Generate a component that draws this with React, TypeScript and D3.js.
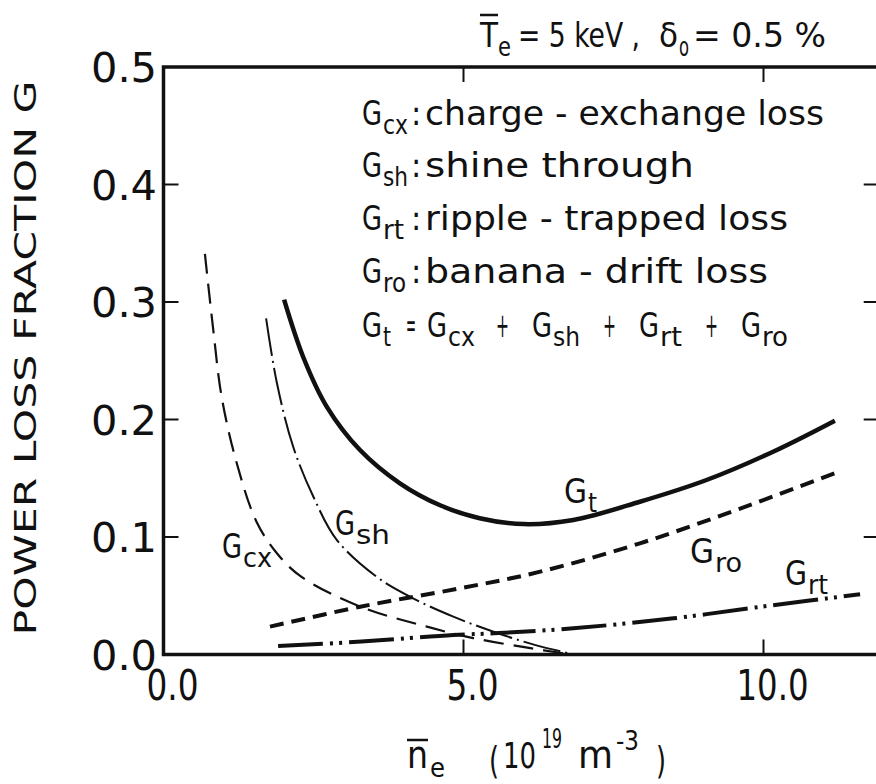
import React from "react";
import * as d3 from "d3";

// ---- data ----
const gcxX = [0.69, 0.83, 0.97, 1.22, 1.55, 1.9, 2.3, 3.28, 4.39, 5.16, 6.04, 6.8];
const gcxY = [0.341, 0.276, 0.219, 0.163, 0.113, 0.0855, 0.066, 0.0407, 0.0237, 0.014, 0.006, 0.0];

const gshX = [1.71, 1.89, 2.16, 2.5, 2.89, 3.55, 4.16, 4.83, 5.5, 6.2, 6.85];
const gshY = [0.286, 0.231, 0.177, 0.134, 0.0974, 0.0662, 0.0478, 0.0322, 0.0194, 0.008, 0.0];

const gtX = [2.01, 2.33, 2.72, 3.275, 3.94, 4.61, 5.27, 6.0, 6.83, 7.94, 9.05, 10.16, 11.19];
const gtY = [0.302, 0.253, 0.211, 0.174, 0.1457, 0.127, 0.116, 0.111, 0.1145, 0.13, 0.1485, 0.1726, 0.199];

const groX = [1.775, 3.28, 4.94, 6.28, 7.94, 9.6, 11.25];
const groY = [0.0237, 0.0407, 0.0563, 0.0705, 0.0946, 0.124, 0.1556];

const grtX = [1.91, 3.3, 4.83, 5.5, 6.83, 8.5, 10.16, 11.61];
const grtY = [0.0072, 0.011, 0.0166, 0.018, 0.0223, 0.0308, 0.042, 0.0512];

const xTicks = [0, 5, 10];
const xTickLabels = ["0.0", "5.0", "10.0"];
const yTicks = [0, 0.1, 0.2, 0.3, 0.4, 0.5];
const yTickLabels = ["0.0", "0.1", "0.2", "0.3", "0.4", "0.5"];

const FONT = "'DejaVu Sans Condensed', 'DejaVu Sans', sans-serif";

const W = 876;
const H = 784;

const x = d3.scaleLinear().domain([0, 11.92]).range([163.5, 878.7]);
const y = d3.scaleLinear().domain([0, 0.5]).range([654.5, 67]);

const line = d3
  .line<[number, number]>()
  .x((d) => x(d[0]))
  .y((d) => y(d[1]))
  .curve(d3.curveCatmullRom.alpha(0.5));

const pts = (xs: number[], ys: number[]) => xs.map((v, i) => [v, ys[i]] as [number, number]);

function GLabel({ px, py, sub, size = 34, subSize = 27, gw, sw }: any) {
  return (
    <g>
      <text x={px} y={py} fontSize={size} textLength={gw} lengthAdjust="spacingAndGlyphs">G</text>
      <text x={px + gw + 1} y={py + 9} fontSize={subSize} textLength={sw} lengthAdjust="spacingAndGlyphs">
        {sub}
      </text>
    </g>
  );
}

function Plus({ px, py }: any) {
  return (
    <text x={px} y={py} fontSize={34} textLength={13} lengthAdjust="spacingAndGlyphs">+</text>
  );
}

export default function App() {
  const xMin = x.range()[0];
  const xMax = x.range()[1];
  const yBot = y.range()[0];
  const yTop = y.range()[1];
  const tl = 15;
  return (
    <svg
      width={W}
      height={H}
      style={{ position: "absolute", left: 0, top: 0, background: "#fff" }}
      fontFamily={FONT}
      fill="#111"
    >
      <rect x={0} y={0} width={W} height={H} fill="#fff" />
      {/* frame */}
      <rect x={xMin} y={yTop} width={xMax - xMin} height={yBot - yTop} fill="none" stroke="#111" strokeWidth={3.5} />
      {/* ticks */}
      {xTicks.slice(1).map((t) => (
        <g key={"xt" + t}>
          <line x1={x(t)} x2={x(t)} y1={yBot} y2={yBot - tl} stroke="#111" strokeWidth={2} />
          <line x1={x(t)} x2={x(t)} y1={yTop} y2={yTop + tl} stroke="#111" strokeWidth={2} />
        </g>
      ))}
      {yTicks.slice(1, -1).map((t) => (
        <g key={"yt" + t}>
          <line x1={xMin} x2={xMin + tl} y1={y(t)} y2={y(t)} stroke="#111" strokeWidth={2} />
          <line x1={xMax} x2={xMax - tl} y1={y(t)} y2={y(t)} stroke="#111" strokeWidth={2} />
        </g>
      ))}
      {/* tick labels */}
      {yTicks.map((t, i) => (
        <text key={"yl" + t} x={157} y={y(t) + 15} fontSize={40} textAnchor="end" textLength={66} lengthAdjust="spacingAndGlyphs">
          {yTickLabels[i]}
        </text>
      ))}
      {xTicks.map((t, i) => (
        <text
          key={"xl" + t}
          x={x(t) + 9}
          y={700}
          fontSize={43}
          textAnchor="middle"
          textLength={xTickLabels[i].length > 3 ? 72 : 52}
          lengthAdjust="spacingAndGlyphs"
        >
          {xTickLabels[i]}
        </text>
      ))}

      {/* curves */}
      <g fill="none" stroke="#111">
        <path d={line(pts(gtX, gtY)) || ""} strokeWidth={4.5} />
        <path d={line(pts(groX, groY)) || ""} strokeWidth={4} strokeDasharray="14 8" />
        <path d={line(pts(grtX, grtY)) || ""} strokeWidth={4} strokeDasharray="45 7 3 6 3 7" />
        <path d={line(pts(gshX, gshY)) || ""} strokeWidth={2} strokeDasharray="38 5 2 5" />
        <path d={line(pts(gcxX, gcxY)) || ""} strokeWidth={2.2} strokeDasharray="20 10" />
      </g>

      {/* curve labels */}
      <GLabel px={222} py={558} sub="cx" gw={20} sw={29} />
      <GLabel px={335} py={535} sub="sh" gw={20} sw={34} />
      <GLabel px={564} py={503} sub="t" gw={23} sw={9} />
      <GLabel px={690} py={563} sub="ro" gw={24} sw={27} />
      <GLabel px={785} py={585} sub="rt" gw={22} sw={20} />

      {/* title */}
      <line x1={480} x2={498} y1={15} y2={15} stroke="#111" strokeWidth={2.5} />
      <text x={480} y={47} fontSize={34} textLength={18} lengthAdjust="spacingAndGlyphs">T</text>
      <text x={498} y={56} fontSize={27} textLength={13} lengthAdjust="spacingAndGlyphs">e</text>
      <text x={518} y={47} fontSize={34} textLength={122} lengthAdjust="spacingAndGlyphs">= 5 keV ,</text>
      <text x={659} y={47} fontSize={34} textLength={19} lengthAdjust="spacingAndGlyphs">δ</text>
      <text x={679} y={56} fontSize={27} textLength={10} lengthAdjust="spacingAndGlyphs">o</text>
      <text x={693} y={47} fontSize={34} textLength={133} lengthAdjust="spacingAndGlyphs">= 0.5 %</text>

      {/* legend */}
      <GLabel px={362} py={125} sub="cx" gw={20} sw={25} />
      <text x={411} y={125} fontSize={34}>:</text>
      <text x={425} y={125} fontSize={34} textLength={399} lengthAdjust="spacingAndGlyphs">charge - exchange  loss</text>

      <GLabel px={362} py={177} sub="sh" gw={20} sw={25} />
      <text x={411} y={177} fontSize={34}>:</text>
      <text x={425} y={177} fontSize={34} textLength={269} lengthAdjust="spacingAndGlyphs">shine  through</text>

      <GLabel px={362} py={230} sub="rt" gw={20} sw={21} />
      <text x={411} y={230} fontSize={34}>:</text>
      <text x={425} y={230} fontSize={34} textLength={363} lengthAdjust="spacingAndGlyphs">ripple - trapped  loss</text>

      <GLabel px={362} py={283} sub="ro" gw={20} sw={23} />
      <text x={411} y={283} fontSize={34}>:</text>
      <text x={425} y={283} fontSize={34} textLength={343} lengthAdjust="spacingAndGlyphs">banana - drift  loss</text>

      <GLabel px={362} py={337} sub="t" gw={20} sw={8} />
      <text x={406} y={337} fontSize={34} textLength={10} lengthAdjust="spacingAndGlyphs">=</text>
      <GLabel px={427} py={337} sub="cx" gw={20} sw={27} />
      <Plus px={496} py={337} />
      <GLabel px={532} py={337} sub="sh" gw={20} sw={27} />
      <Plus px={603} py={337} />
      <GLabel px={639} py={337} sub="rt" gw={20} sw={22} />
      <Plus px={705} py={337} />
      <GLabel px={741} py={337} sub="ro" gw={20} sw={26} />

      {/* y axis title */}
      <text
        transform="translate(36, 358) rotate(-90)"
        fontSize={30}
        textAnchor="middle"
        textLength={555}
        lengthAdjust="spacingAndGlyphs"
      >
        POWER  LOSS  FRACTION  G
      </text>

      {/* x axis title */}
      <line x1={407} x2={428} y1={740} y2={740} stroke="#111" strokeWidth={2.5} />
      <text x={407} y={768} fontSize={38} textLength={21} lengthAdjust="spacingAndGlyphs">n</text>
      <text x={430} y={777} fontSize={26} textLength={15} lengthAdjust="spacingAndGlyphs">e</text>
      <text x={489} y={773} fontSize={38} textLength={10} lengthAdjust="spacingAndGlyphs">(</text>
      <text x={503} y={768} fontSize={36} textLength={33} lengthAdjust="spacingAndGlyphs">10</text>
      <text x={542} y={748} fontSize={26} textLength={20} lengthAdjust="spacingAndGlyphs">19</text>
      <text x={578} y={768} fontSize={38} textLength={35} lengthAdjust="spacingAndGlyphs">m</text>
      <text x={616} y={750} fontSize={26} textLength={23} lengthAdjust="spacingAndGlyphs">-3</text>
      <text x={656} y={773} fontSize={38} textLength={10} lengthAdjust="spacingAndGlyphs">)</text>
    </svg>
  );
}
